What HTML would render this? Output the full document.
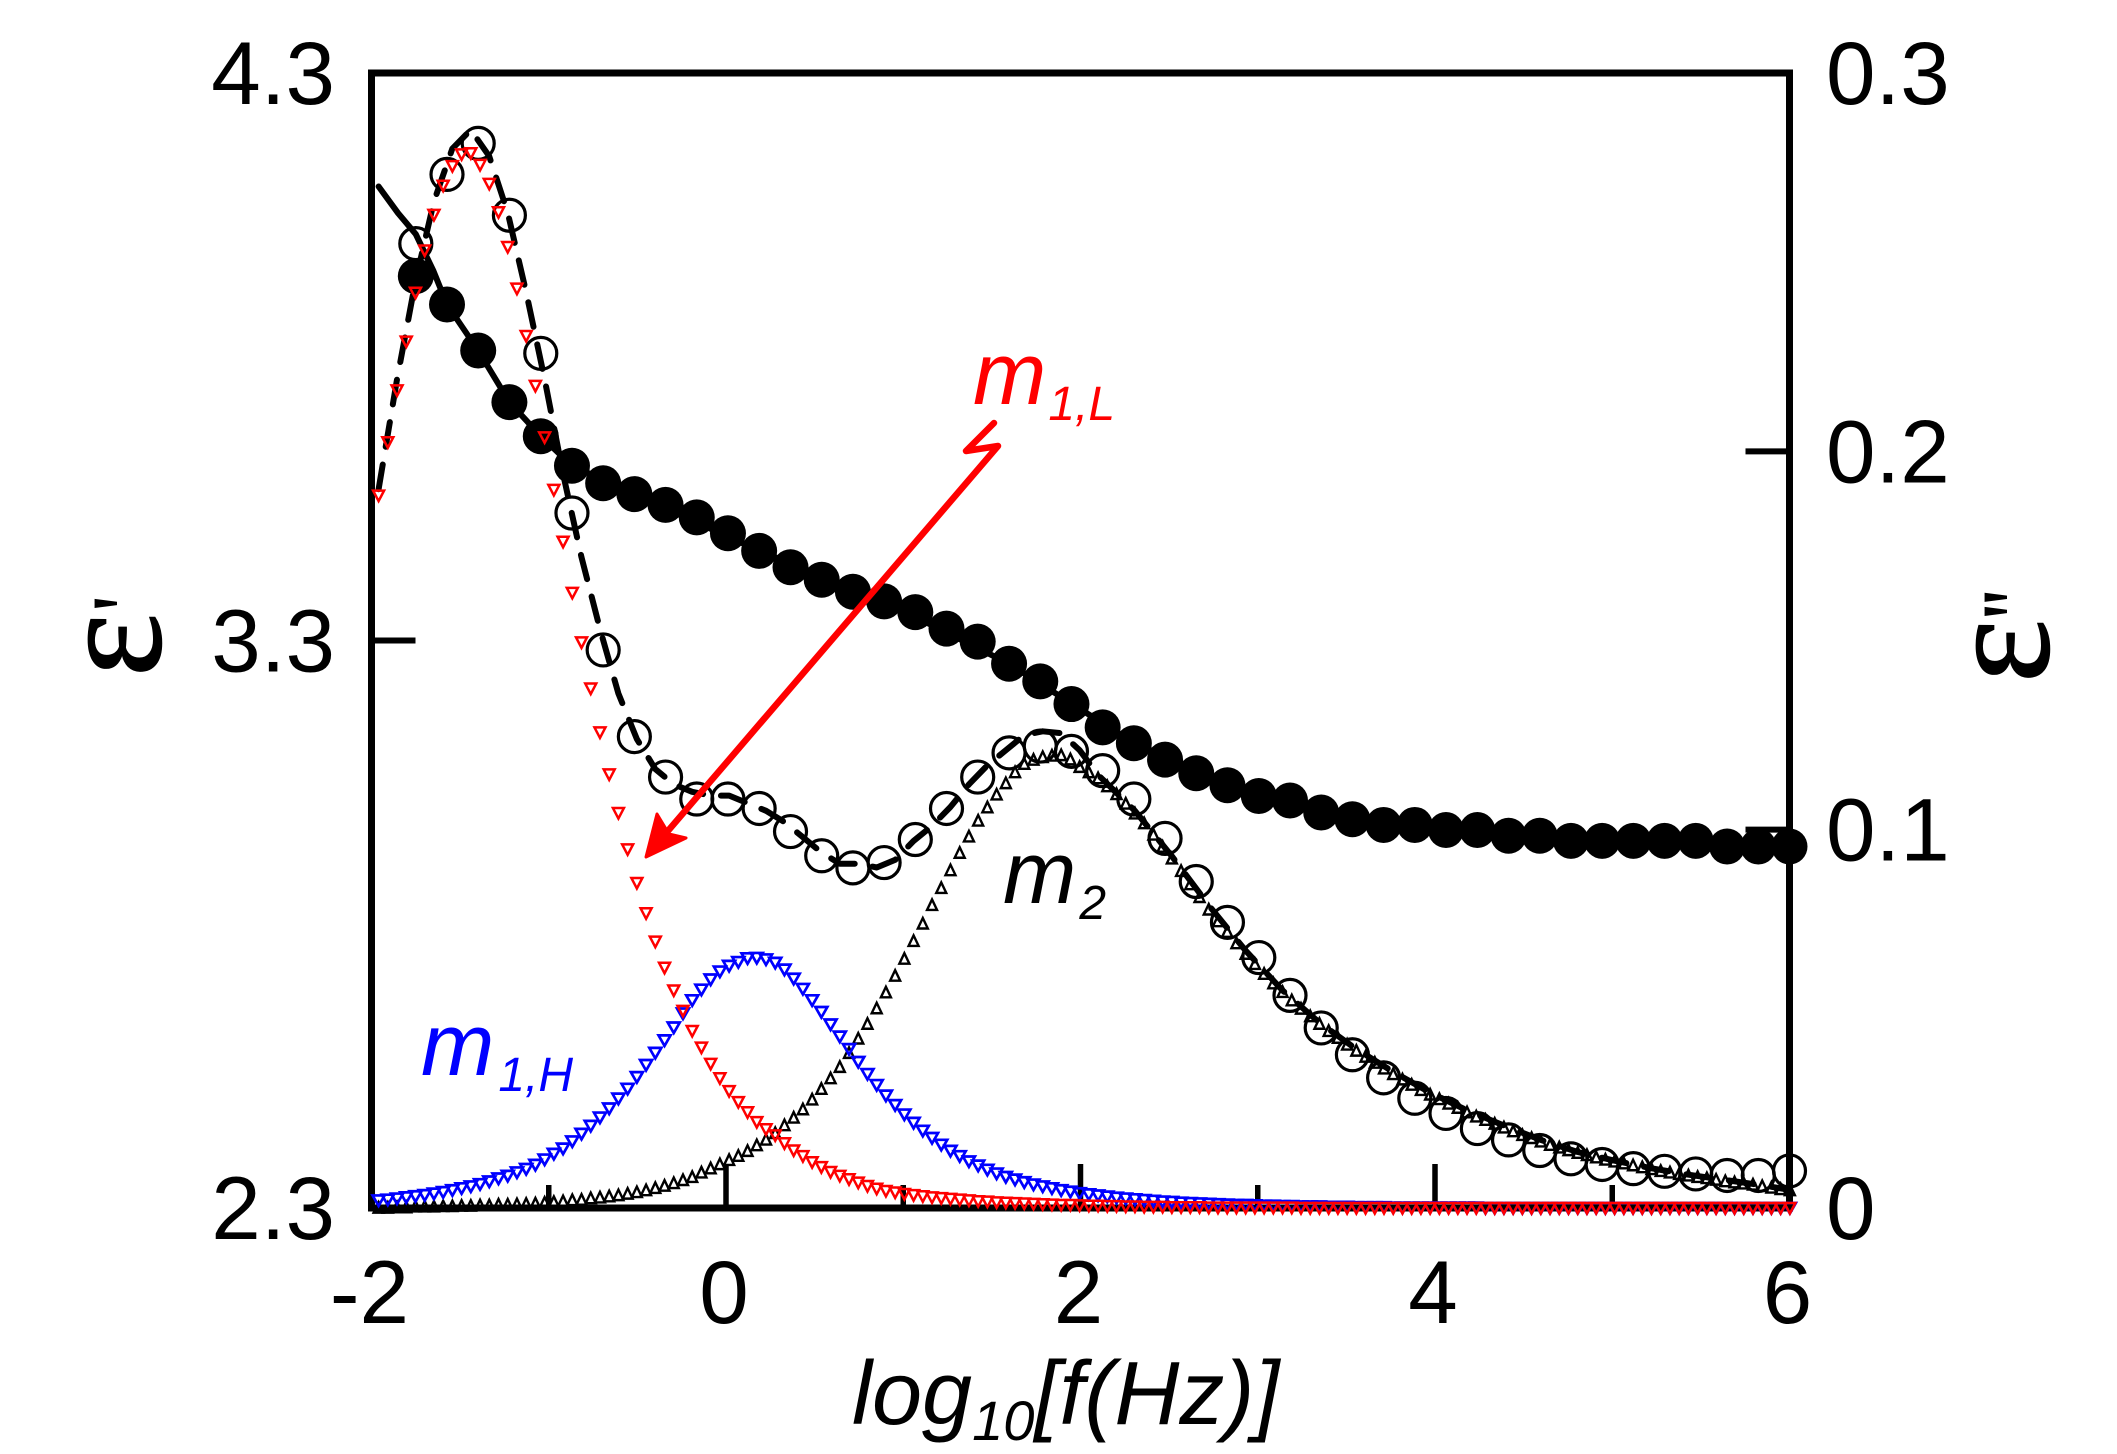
<!DOCTYPE html>
<html lang="en">
<head>
<meta charset="utf-8">
<title>Dielectric spectrum</title>
<style>
html,body{margin:0;padding:0;background:#fff;width:2117px;height:1454px;overflow:hidden}
svg{display:block}
text{font-family:"Liberation Sans",sans-serif;fill:#000}
.tick{font-size:89px}
.ital{font-style:italic}
.eps{font-family:"Liberation Serif",serif;font-size:152px;stroke:#000;stroke-width:1.5px}
.prime{font-family:"Liberation Serif",serif;font-size:95px;letter-spacing:-3px}
</style>
</head>
<body>
<svg id="chart" xmlns="http://www.w3.org/2000/svg" width="2117" height="1454" viewBox="0 0 2117 1454">
  <g id="axes"></g>
  <g id="series"></g>
  <g>
    <path d="M994 423 L966 451 L998 446 L655 846" fill="none" stroke="#ff0000" stroke-width="6.5" stroke-linejoin="round" stroke-linecap="round"/>
    <path d="M646 857 L657 814 L669 834 L686 838 Z" fill="#ff0000" stroke="#ff0000" stroke-width="3" stroke-linejoin="round"/>
  </g>
  <g id="labels">
    <text class="eps" transform="translate(160 677) rotate(-90)">ε</text>
    <text class="prime" transform="translate(157 612) rotate(-90)">'</text>
    <text class="eps" transform="translate(2048 683) rotate(-90)">ε</text>
    <text class="prime" transform="translate(2047 620) rotate(-90)">''</text>
    <text class="ital" x="852" y="1424" font-size="90">log<tspan font-size="56" dy="16">10</tspan><tspan dy="-16">[f(Hz)]</tspan></text>
    <text class="ital" x="973" y="404" font-size="88" style="fill:#ff0000">m<tspan font-size="48" dx="2" dy="16" style="fill:#ff0000">1,L</tspan></text>
    <text class="ital" x="421" y="1075" font-size="88" style="fill:#0000ff">m<tspan font-size="48" dx="4" dy="16" style="fill:#0000ff">1,H</tspan></text>
    <text class="ital" x="1003" y="903" font-size="88">m<tspan font-size="48" dx="3" dy="16">2</tspan></text>
  </g>
</svg>
<script>
// ---- data ----
const xTickLabels = [-2, 0, 2, 4, 6];
const xMinorTicks = [-1, 1, 3, 5];
const yLeftTickLabels = ["4.3", "3.3", "2.3"];
const yLeftTickValues = [4.3, 3.3, 2.3];
const yRightTickLabels = ["0.3", "0.2", "0.1", "0"];
const yRightTickValues = [0.3, 0.2, 0.1, 0];

const circleLogF = [-1.75,-1.574,-1.398,-1.222,-1.045,-0.869,-0.693,-0.517,-0.341,-0.165,
  0.011,0.187,0.364,0.54,0.716,0.892,1.068,1.244,1.42,1.597,
  1.773,1.949,2.125,2.301,2.477,2.653,2.829,3.006,3.182,3.358,
  3.534,3.71,3.886,4.062,4.239,4.415,4.591,4.767,4.943,5.119,
  5.295,5.471,5.648,5.824,6];
const epsReal = [3.942,3.892,3.811,3.720,3.660,3.608,3.577,3.558,3.539,3.517,
  3.489,3.458,3.429,3.407,3.386,3.369,3.350,3.321,3.298,3.259,
  3.228,3.188,3.147,3.119,3.090,3.066,3.045,3.026,3.018,2.997,
  2.985,2.975,2.975,2.966,2.966,2.956,2.956,2.947,2.947,2.947,
  2.947,2.947,2.937,2.937,2.937];
const epsImag = [.2549,.2732,.2814,.2624,.2259,.1837,.1475,.1246,.1139,.1081,
  .1081,.1056,.0995,.0931,.0899,.0913,.0974,.1056,.1139,.1203,
  .1221,.1207,.1156,.1081,.0977,.0863,.0755,.0662,.0562,.0476,
  .0405,.0344,.0290,.0250,.0210,.0180,.0152,.0130,.0115,.0104,
  .0097,.0090,.0086,.0086,.0098];

const solidFitLogF = [-1.96,-1.85,-1.75,-1.65,-1.574,-1.398,-1.222,-1.045,-0.869,-0.517,0.187,0.892,1.597,2.301,3.006,3.71,4.415,5.119,6];
const solidFitValues = [4.10,4.053,4.016,3.951,3.892,3.811,3.720,3.660,3.608,3.558,3.458,3.369,3.259,3.119,3.026,2.975,2.956,2.947,2.937];

const dashedFitLogF = [-1.96,-1.856,-1.752,-1.648,-1.544,-1.44,-1.336,-1.231,-1.127,-1.023,
  -0.919,-0.815,-0.711,-0.607,-0.503,-0.399,-0.295,-0.191,-0.087,0.018,
  0.122,0.226,0.33,0.434,0.538,0.642,0.746,0.85,0.954,1.058,
  1.162,1.266,1.371,1.475,1.579,1.683,1.787,1.891,1.995,2.099,
  2.307,2.515,2.724,2.932,3.14,3.348,3.556,3.764,3.973,4.181,
  4.389,4.597,4.805,5.013,5.222,5.43,5.638,5.846,6];
const dashedFitValues = [.190,.219,.245,.266,.280,.285,.278,.263,.242,.219,
  .194,.172,.153,.136,.124,.116,.112,.110,.109,.109,
  .107,.105,.102,.098,.094,.091,.091,.090,.092,.097,
  .101,.106,.112,.117,.121,.125,.126,.1255,.121,.1145,
  .1050,.0930,.0800,.0680,.0575,.0490,.0420,.0360,.0305,.0258,
  .0218,.0180,.0148,.0125,.0105,.0088,.0074,.0060,.0048];

const triStart = -1.96;
const triStep = 0.05204;
const m1Low = [.1883,.2024,.2161,.2290,.2419,.2531,.2625,.2702,.2754,.2785,
  .2788,.2757,.2707,.2632,.2540,.2430,.2305,.2173,.2037,.1898,
  .1761,.1626,.1495,.1373,.1257,.1146,.1044,.0948,.0859,.0779,
  .0704,.0635,.0575,.0521,.0468,.0424,.0381,.0343,.0309,.0280,
  .0253,.0227,.0208,.0192,.0171,.0152,.0137,.0121,.0108,.0095,
  .0085,.0076,.0067,.0058,.0051,.0045,.0041,.0037,.0034,.0031,
  .0028,.0026,.0024,.0022,.0020,.0018,.0017,.0015,.0014,.0013,
  .0012,.0011,.0010,.0009,.0008,.0008,.0007,.0006,.0006,.0005,
  .0005,.0004,.0004,.0003,.0003,.0003,.0002,.0002,.0002,.0002,
  .0001,.0001,.0001,.0001,.0001,.0001,.0001,.0001,.0001,.0001,
  0,0,0,0,0,0,0,0,0,0,
  0,0,0,0,0,0,0,0,0,0,
  0,0,0,0,0,0,0,0,0,0,
  0,0,0,0,0,0,0,0,0,0,
  0,0,0,0,0,0,0,0,0,0,
  0,0,0,0];
const m1High = [.0020,.0022,.0025,.0028,.0031,.0034,.0038,.0042,.0047,.0052,
  .0057,.0063,.0070,.0078,.0085,.0094,.0103,.0114,.0128,.0143,
  .0157,.0176,.0196,.0217,.0239,.0263,.0289,.0315,.0346,.0378,
  .0410,.0443,.0477,.0514,.0549,.0577,.0604,.0625,.0640,.0650,
  .0660,.0661,.0657,.0648,.0630,.0606,.0579,.0549,.0518,.0485,
  .0453,.0420,.0386,.0354,.0325,.0297,.0272,.0247,.0225,.0204,
  .0185,.0167,.0151,.0137,.0123,.0112,.0101,.0091,.0082,.0075,
  .0068,.0062,.0057,.0052,.0047,.0043,.0039,.0036,.0033,.0030,
  .0027,.0025,.0023,.0021,.0019,.0017,.0016,.0014,.0013,.0012,
  .0011,.0010,.0009,.0008,.0008,.0007,.0006,.0006,.0005,.0005,
  .0004,.0004,.0004,.0003,.0003,.0003,.0002,.0002,.0002,.0002,
  .0001,.0001,.0001,.0001,.0001,.0001,.0001,.0001,.0001,.0001,
  0,0,0,0,0,0,0,0,0,0,
  0,0,0,0,0,0,0,0,0,0,
  0,0,0,0,0,0,0,0,0,0,
  0,0,0,0];
const m2 = [.0001,.0001,.0002,.0002,.0004,.0004,.0004,.0005,.0005,.0006,
  .0006,.0007,.0007,.0009,.0009,.0010,.0011,.0012,.0014,.0016,
  .0018,.0021,.0022,.0026,.0028,.0031,.0034,.0038,.0042,.0047,
  .0053,.0059,.0066,.0074,.0082,.0094,.0105,.0116,.0127,.0138,
  .0151,.0166,.0181,.0198,.0219,.0239,.0261,.0287,.0315,.0343,
  .0373,.0410,.0448,.0487,.0528,.0570,.0614,.0659,.0706,.0752,
  .0801,.0846,.0893,.0939,.0982,.1024,.1059,.1093,.1123,.1152,
  .1174,.1185,.1192,.1196,.1197,.1186,.1166,.1152,.1136,.1115,
  .1094,.1069,.1043,.1017,.0987,.0955,.0924,.0891,.0856,.0822,
  .0789,.0758,.0730,.0700,.0672,.0645,.0619,.0594,.0571,.0549,
  .0527,.0507,.0487,.0468,.0450,.0432,.0416,.0400,.0384,.0369,
  .0354,.0340,.0326,.0312,.0300,.0288,.0276,.0265,.0253,.0242,
  .0233,.0223,.0213,.0203,.0193,.0185,.0176,.0167,.0160,.0153,
  .0146,.0140,.0134,.0128,.0123,.0118,.0113,.0108,.0103,.0098,
  .0094,.0090,.0086,.0082,.0079,.0075,.0071,.0068,.0065,.0062,
  .0058,.0054,.0050,.0047];

// ---- axis functions ----
const plotLeft = 371.5, plotRight = 1789.5, plotTop = 73, plotBottom = 1208;
function xScale(v){ return plotLeft + (v + 2) / 8 * (plotRight - plotLeft); }
function yLeft(v){ return plotBottom - (v - 2.3) / 2 * (plotBottom - plotTop); }
function yRight(v){ return plotBottom - v / 0.3 * (plotBottom - plotTop); }

const NS = "http://www.w3.org/2000/svg";
const axes = document.getElementById("axes");
const series = document.getElementById("series");

function make(tag, attrs, parent){
  const el = document.createElementNS(NS, tag);
  for (const k in attrs) el.setAttribute(k, attrs[k]);
  parent.appendChild(el);
  return el;
}

// ---- frame and ticks ----
const frame = make("rect", {x: plotLeft, y: plotTop, width: plotRight - plotLeft, height: plotBottom - plotTop, fill: "none", stroke: "#000", "stroke-width": 7}, axes);



xTickLabels.forEach(function(v, i){
  const x = xScale(v);
  if (i > 0 && i < xTickLabels.length - 1) {
    const t = make("line", {x1: x, x2: x, y1: plotBottom, y2: plotBottom - 44, stroke: "#000", "stroke-width": 5.5}, axes);
    
    
  }
  const l = make("text", {x: x - 2, y: 1323, "text-anchor": "middle", class: "tick"}, axes);
  l.textContent = String(v);
  
  
});
xMinorTicks.forEach(function(v){
  const x = xScale(v);
  const t = make("line", {x1: x, x2: x, y1: plotBottom, y2: plotBottom - 23, stroke: "#000", "stroke-width": 5.5}, axes);
  
  
});
yLeftTickValues.forEach(function(v, i){
  const y = yLeft(v);
  if (i === 1) {
    const t = make("line", {x1: plotLeft, x2: plotLeft + 44, y1: y, y2: y, stroke: "#000", "stroke-width": 6}, axes);
    
    
  }
  const l = make("text", {x: 335, y: y + 31, "text-anchor": "end", class: "tick"}, axes);
  l.textContent = yLeftTickLabels[i];
  
  
});
yRightTickValues.forEach(function(v, i){
  const y = yRight(v);
  if (i === 1 || i === 2) {
    const t = make("line", {x1: plotRight, x2: plotRight - 44, y1: y, y2: y, stroke: "#000", "stroke-width": 6}, axes);
    
    
  }
  const l = make("text", {x: 1826, y: y + 31, class: "tick"}, axes);
  l.textContent = yRightTickLabels[i];
  
  
});

// ---- series ----
circleLogF.forEach(function(v, i){
  const c = make("circle", {cx: xScale(v), cy: yLeft(epsReal[i]), r: 18, fill: "#000"}, series);
  
  
});

function polyPoints(xs, ys, yFn){
  return xs.map(function(x, i){ return xScale(x).toFixed(1) + "," + yFn(ys[i]).toFixed(1); }).join(" ");
}

const solidFit = make("polyline", {points: polyPoints(solidFitLogF, solidFitValues, yLeft), fill: "none", stroke: "#000", "stroke-width": 6, "stroke-linecap": "round", "stroke-linejoin": "round"}, series);



circleLogF.forEach(function(v, i){
  const c = make("circle", {cx: xScale(v), cy: yRight(epsImag[i]), r: 16, fill: "none", stroke: "#000", "stroke-width": 3.2}, series);
  
  
});

const dashedFit = make("polyline", {points: polyPoints(dashedFitLogF, dashedFitValues, yRight), fill: "none", stroke: "#000", "stroke-width": 6, "stroke-dasharray": "25 18", "stroke-linecap": "round", "stroke-linejoin": "round"}, series);



function triangle(cx, cy, dir, halfW, colour, sw){
  const p = (cx - halfW) + "," + (cy - 5 * dir) + " " + (cx + halfW) + "," + (cy - 5 * dir) + " " + cx + "," + (cy + 5.5 * dir);
  return make("polygon", {points: p, fill: "none", stroke: colour, "stroke-width": sw}, series);
}

m2.forEach(function(v, i){
  const t = triangle(xScale(triStart + i * triStep), yRight(v), -1, 5, "#000", 2.4);
  
  
});
m1High.forEach(function(v, i){
  const t = triangle(xScale(triStart + i * triStep), yRight(v), 1, 6, "#0000ff", 2.7);
  
  
});
m1Low.forEach(function(v, i){
  const t = triangle(xScale(triStart + i * triStep), yRight(v), 1, 5.5, "#ff0000", 2.5);
  
  
});
</script>
</body>
</html>
